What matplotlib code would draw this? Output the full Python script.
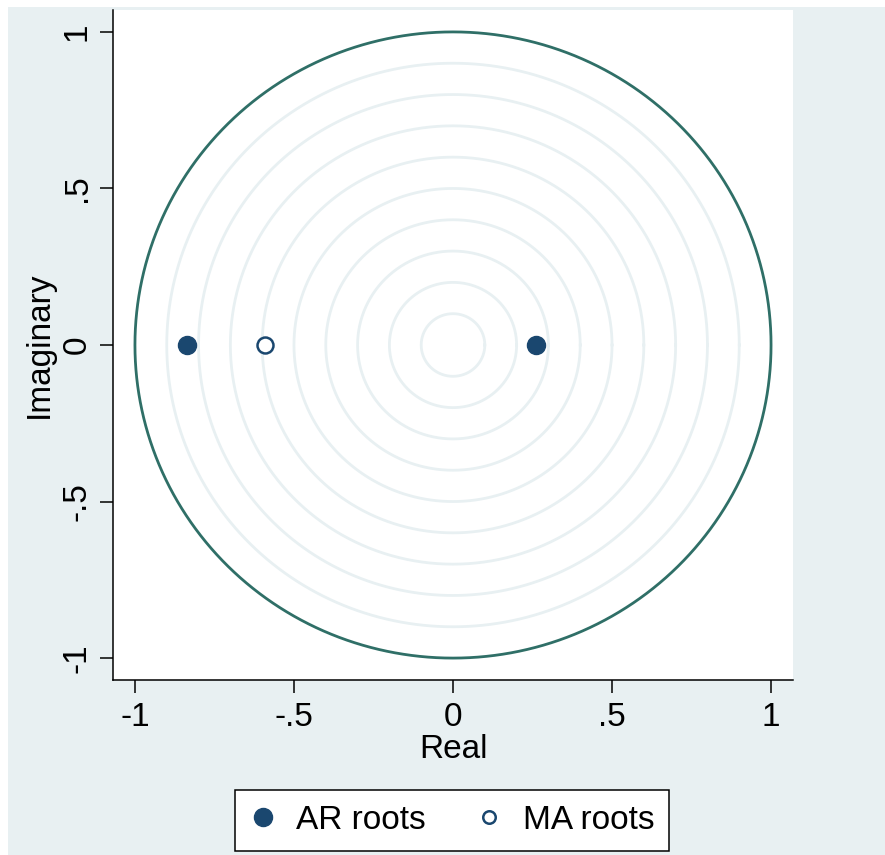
"""Inverse roots of an ARMA polynomial against the unit circle."""

import matplotlib

matplotlib.use("Agg")

import matplotlib.pyplot as plt
import numpy as np
from matplotlib.lines import Line2D
from matplotlib.patches import Rectangle

plt.rcParams["font.family"] = ["Liberation Sans", "DejaVu Sans"]

AR_REAL = [-0.835, 0.26]
AR_IMAG = [0.0, 0.0]
MA_REAL = [-0.59]
MA_IMAG = [0.0]
GRID_RADII = [0.1, 0.2, 0.3, 0.4, 0.5, 0.6, 0.7, 0.8, 0.9]
UNIT_RADIUS = 1.0
TICKS = [-1, -0.5, 0, 0.5, 1]
TICK_LABELS = ["-1", "-.5", "0", ".5", "1"]

BG = "#e8f0f2"
NAVY = "#1a476f"
TEAL = "#2f6f67"
FS = 24

fig = plt.figure(figsize=(8.85, 8.55), dpi=100, facecolor="white")
fig.patches.append(
    Rectangle((8 / 885, 0), 1 - 8 / 885, 1 - 7 / 855,
              transform=fig.transFigure, facecolor=BG, edgecolor="none", zorder=-10)
)

ax = fig.add_axes([113 / 885, 1 - 680 / 855, 680 / 885, 670 / 855])
ax.set_facecolor("white")

theta = np.linspace(0, 2 * np.pi, 721)
for r in GRID_RADII:
    ax.plot(r * np.cos(theta), r * np.sin(theta), color=BG, lw=2.0, zorder=1)
ax.plot(UNIT_RADIUS * np.cos(theta), UNIT_RADIUS * np.sin(theta),
        color=TEAL, lw=2.0, zorder=2, solid_capstyle="butt")

ax.plot(AR_REAL, AR_IMAG, ls="none", marker="o", ms=13,
        color=NAVY, mec=NAVY, zorder=3)
ax.plot(MA_REAL, MA_IMAG, ls="none", marker="o", ms=11.5,
        mfc="white", mec=NAVY, mew=1.8, zorder=3)

ax.set_xlim(-1.069, 1.069)
ax.set_ylim(-1.070, 1.070)

ax.set_xticks(TICKS)
ax.set_xticklabels(TICK_LABELS)
ax.set_yticks(TICKS)
ax.set_yticklabels(TICK_LABELS, rotation=90, va="center")

ax.tick_params(axis="both", direction="out", length=9.5, width=1.1,
               labelsize=FS, color="black")
ax.tick_params(axis="x", pad=6)
ax.tick_params(axis="y", pad=5)

for side in ("top", "right"):
    ax.spines[side].set_visible(False)
for side in ("left", "bottom"):
    ax.spines[side].set_linewidth(1.1)

ax.set_xlabel("Real", fontsize=FS, labelpad=1)
ax.set_ylabel("Imaginary", fontsize=FS, labelpad=5)

handles = [
    Line2D([], [], ls="none", marker="o", ms=13, color=NAVY),
    Line2D([], [], ls="none", marker="o", ms=9, mfc="white", mec=NAVY, mew=1.8),
]
leg = fig.legend(handles, ["AR roots", "MA roots"], loc="center",
                 bbox_to_anchor=(452 / 885, 1 - 820 / 855), ncol=2,
                 fontsize=FS, frameon=True, fancybox=False, framealpha=1,
                 edgecolor="black", borderpad=0.45, handlelength=0.8,
                 handletextpad=0.6, columnspacing=1.5)
leg.get_frame().set_linewidth(1.1)

fig.savefig("out.png", dpi=100, facecolor=fig.get_facecolor())
